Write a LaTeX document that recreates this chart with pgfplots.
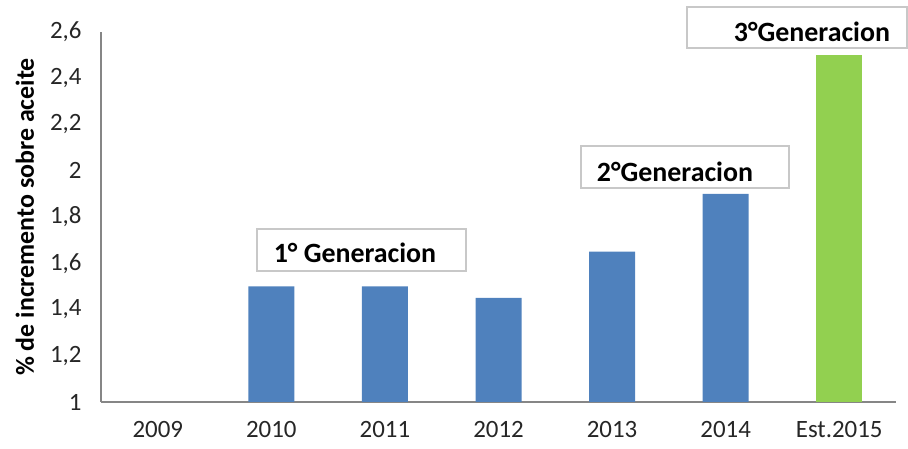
\documentclass[border=0pt]{standalone}
\usepackage{pgfplots}
\pgfplotsset{compat=1.18}
\usepackage{fontspec}
\setmainfont{Carlito}
\definecolor{barblue}{RGB}{79,129,189}
\definecolor{bargreen}{RGB}{146,208,80}
\definecolor{axgray}{RGB}{134,134,134}
\definecolor{boxgray}{RGB}{200,200,200}
\begin{document}
\begin{tikzpicture}[x=1bp,y=1bp]
\path[use as bounding box] (-101,-47) rectangle (807,402);
\begin{axis}[
  at={(0,0)}, anchor=south west,
  scale only axis, width=795bp, height=370bp,
  xmin=-0.5, xmax=6.5, ymin=1, ymax=2.6,
  xtick={0,1,2,3,4,5,6},
  xticklabels={2009,2010,2011,2012,2013,2014,Est.2015},
  ytick={1,1.2,1.4,1.6,1.8,2,2.2,2.4,2.6},
  yticklabels={1,{1,2},{1,4},{1,6},{1,8},2,{2,2},{2,4},{2,6}},
  axis x line*=bottom, axis y line*=left,
  axis line style={axgray, line width=1.3bp},
  major tick length=0pt,
  tick label style={font=\fontsize{25}{29}\selectfont, text=black!85},
  xticklabel style={yshift=-16bp},
  yticklabel style={xshift=-16bp},
  ylabel={\textbf{\% de incremento sobre aceite}},
  every axis y label/.style={at={(axis description cs:0,0.5)}, xshift=-76bp, rotate=90, anchor=center, font=\fontsize{26}{30}\selectfont},
  ybar, bar width=46bp,
]
\addplot[fill=barblue, draw=none, bar shift=0pt] coordinates {(1,1.5) (2,1.5) (3,1.45) (4,1.65) (5,1.9)};
\addplot[fill=bargreen, draw=none, bar shift=0pt] coordinates {(6,2.5)};
\end{axis}
\draw[boxgray, line width=1.2bp, fill=white] (156,131) rectangle (365,173);
\draw[boxgray, line width=1.2bp, fill=white] (480,214) rectangle (688,256);
\draw[boxgray, line width=1.2bp, fill=white] (586,354) rectangle (806,395);
\node[anchor=base, inner sep=0pt, font=\fontsize{28}{32}\selectfont\bfseries] at (254,139) {1° Generacion};
\node[anchor=base, inner sep=0pt, font=\fontsize{28}{32}\selectfont\bfseries] at (574,220) {2°Generacion};
\node[anchor=base, inner sep=0pt, font=\fontsize{28}{32}\selectfont\bfseries] at (711,360) {3°Generacion};
\end{tikzpicture}
\end{document}
